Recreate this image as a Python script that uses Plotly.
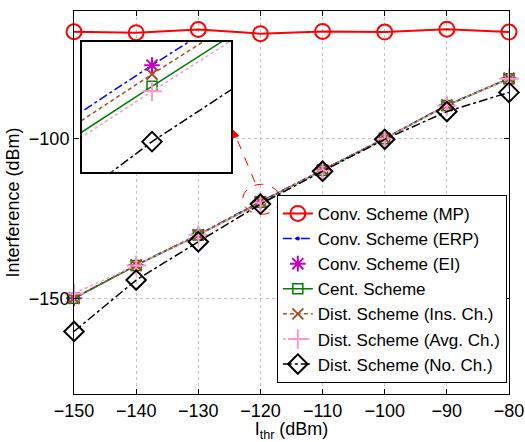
import plotly.graph_objects as go

# Interference threshold (dBm)
i_thr = [-150, -140, -130, -120, -110, -100, -90, -80]

# Received interference (dBm) for each scheme
conv_mp = [-66.5, -66.8, -65.8, -67.1, -66.4, -66.6, -65.7, -66.6]
conv_erp = [-150.0, -139.6, -130.1, -119.74, -109.8, -99.9, -89.5, -81.1]
conv_ei = [-150.0, -139.6, -130.1, -119.74, -109.8, -99.9, -89.5, -81.1]
cent = [-150.0, -139.7, -130.2, -119.95, -109.9, -100.0, -89.6, -81.2]
dist_ins = [-150.0, -139.65, -130.15, -119.83, -109.85, -99.95, -89.55, -81.15]
dist_avg = [-148.5, -139.7, -130.2, -120.0, -109.95, -100.05, -89.65, -81.2]
dist_no = [-160.4, -144.3, -132.3, -120.5, -110.2, -100.2, -91.5, -85.5]

x_ticks = [-150, -140, -130, -120, -110, -100, -90, -80]
y_ticks = [-150, -100]

FONT = "Liberation Sans, Arial, sans-serif"

series = [
    dict(name="Conv. Scheme (MP)", y=conv_mp, mode="lines+markers",
         line=dict(color="#ff0000", width=2),
         marker=dict(symbol="circle-open", size=15, color="#ff0000", line=dict(width=2))),
    dict(name="Conv. Scheme (ERP)", y=conv_erp, mode="lines+markers",
         line=dict(color="#0000ff", width=1.5, dash="dashdot"),
         marker=dict(symbol="circle", size=4, color="#0000ff")),
    dict(name="Conv. Scheme (EI)", y=conv_ei, mode="markers",
         marker=dict(symbol="asterisk-open", size=13, color="#bf00bf", line=dict(width=2, color="#bf00bf"))),
    dict(name="Cent. Scheme", y=cent, mode="lines+markers",
         line=dict(color="#008000", width=1.5),
         marker=dict(symbol="square-open", size=10, color="#008000", line=dict(width=1.5))),
    dict(name="Dist. Scheme (Ins. Ch.)", y=dist_ins, mode="lines+markers",
         line=dict(color="#a0522d", width=1.5, dash="4px,3px"),
         marker=dict(symbol="x-thin-open", size=11, color="#a0522d", line=dict(width=2, color="#a0522d"))),
    dict(name="Dist. Scheme (Avg. Ch.)", y=dist_avg, mode="lines+markers",
         line=dict(color="#ff99cc", width=1.5, dash="dot"),
         marker=dict(symbol="cross-thin-open", size=14, color="#ff99cc", line=dict(width=2, color="#ff99cc"))),
    dict(name="Dist. Scheme (No. Ch.)", y=dist_no, mode="lines+markers",
         line=dict(color="#000000", width=1.5, dash="dashdot"),
         marker=dict(symbol="diamond-open", size=15, color="#000000", line=dict(width=2))),
]

fig = go.Figure()

# Main axes
for s in series:
    fig.add_trace(go.Scatter(x=i_thr, y=s["y"], name=s["name"], mode=s["mode"],
                             line=s.get("line"), marker=s["marker"],
                             cliponaxis=False, xaxis="x", yaxis="y"))

# Zoomed view around I_thr = -120 dBm
for s in series:
    fig.add_trace(go.Scatter(x=i_thr, y=s["y"], name=s["name"], mode=s["mode"],
                             line=s.get("line"), marker=s["marker"],
                             showlegend=False, cliponaxis=True,
                             xaxis="x2", yaxis="y2"))

axis_common = dict(showline=True, linecolor="black", linewidth=1, mirror="ticks",
                   ticks="inside", ticklen=5, tickcolor="black",
                   showgrid=True, gridcolor="#c4c4c4", griddash="dot", gridwidth=1,
                   zeroline=False, tickfont=dict(size=18, color="black", family=FONT),
                   ticklabeloverflow="allow", automargin=False)

fig.update_layout(
    width=525, height=442,
    margin=dict(l=74, r=16, t=11, b=48),
    paper_bgcolor="white", plot_bgcolor="white",
    font=dict(family=FONT, size=18, color="black"),
    xaxis=dict(range=[-150.001, -79.999], tickvals=x_ticks, domain=[0, 1],
               title=dict(text="I<sub>thr</sub> (dBm)", standoff=2,
                          font=dict(size=18)),
               **axis_common),
    yaxis=dict(range=[-180, -60], tickvals=y_ticks, domain=[0, 1],
               title=dict(text="Interference (dBm)", standoff=4,
                          font=dict(size=18)),
               **axis_common),
    xaxis2=dict(range=[-120.443, -119.5], domain=[0.0184, 0.361], anchor="y2",
                showline=True, linecolor="black", linewidth=1.5, mirror=True,
                showticklabels=False, ticks="", showgrid=False, zeroline=False),
    yaxis2=dict(range=[-120.80, -119.51], domain=[0.580, 0.919], anchor="x2",
                showline=True, linecolor="black", linewidth=1.5, mirror=True,
                showticklabels=False, ticks="", showgrid=False, zeroline=False),
    legend=dict(x=0.995, y=0.029, xanchor="right", yanchor="bottom",
                bgcolor="white", bordercolor="black", borderwidth=1,
                font=dict(size=17, family=FONT, color="black"),
                itemwidth=30, tracegroupgap=0),
    showlegend=True,
)

# Dashed ellipse marking the zoomed region and a dashed pointer to the inset
fig.add_shape(type="circle", xref="x", yref="y",
              x0=-122.85, x1=-116.85, y0=-123.7, y1=-114.3,
              line=dict(color="#ff0000", width=1, dash="dash"))
fig.add_shape(type="line", xref="x", yref="y",
              x0=-120.87, y0=-113.66, x1=-123.93, y1=-99.44,
              line=dict(color="#ff0000", width=1, dash="dash"))
# Arrowhead (pixel-sized triangle anchored at the pointer tip)
fig.add_shape(type="path", xref="x", yref="y",
              xsizemode="pixel", ysizemode="pixel",
              xanchor=-124.37, yanchor=-97.4,
              path="M 0,0 L 5.5,-5.3 L -0.1,-7.6 Z",
              fillcolor="#ff0000", line=dict(color="#ff0000", width=1))

fig.write_html("out.html")
